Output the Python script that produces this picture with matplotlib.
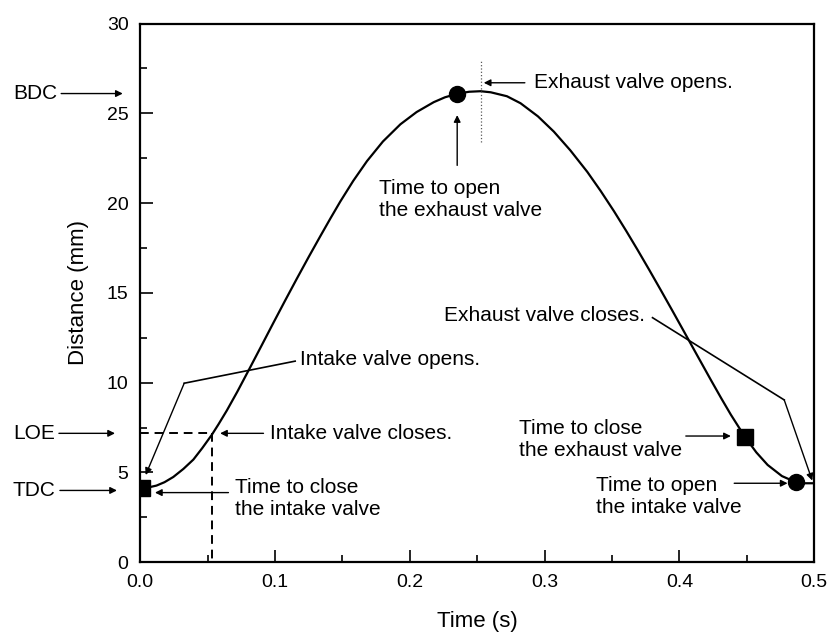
import matplotlib
matplotlib.use("Agg")
import matplotlib.pyplot as plt
import numpy as np

plt.rcParams['font.family'] = ['Liberation Sans', 'DejaVu Sans']

# --- Cam follower lift over one cycle ---
time = [0.000, 0.005, 0.012, 0.018, 0.0245, 0.032, 0.0394, 0.046, 0.053, 0.058,
        0.0642, 0.072, 0.0815, 0.090, 0.0988, 0.1075, 0.1162, 0.125, 0.1335,
        0.141, 0.1484, 0.158, 0.1682, 0.180, 0.193, 0.205, 0.2177, 0.226,
        0.2351, 0.244, 0.2524, 0.260, 0.272, 0.2821, 0.295, 0.3068, 0.319,
        0.3316, 0.3415, 0.3514, 0.3605, 0.3688, 0.3775, 0.3861, 0.3948, 0.4034,
        0.413, 0.4233, 0.431, 0.4381, 0.4485, 0.457, 0.4654, 0.476, 0.4866,
        0.493, 0.500]
distance = [4.12, 4.15, 4.27, 4.46, 4.75, 5.20, 5.72, 6.36, 7.09, 7.68,
            8.45, 9.50, 10.85, 12.07, 13.34, 14.58, 15.80, 17.01, 18.15,
            19.14, 20.09, 21.24, 22.34, 23.43, 24.39, 25.07, 25.62, 25.89,
            26.09, 26.20, 26.23, 26.17, 25.95, 25.56, 24.83, 23.98, 22.94,
            21.74, 20.68, 19.55, 18.45, 17.41, 16.29, 15.16, 14.00, 12.84,
            11.54, 10.15, 9.13, 8.22, 6.99, 6.12, 5.42, 4.80, 4.45,
            4.40, 4.40]

# valve timing events
square_t = [0.001, 0.4485]      # close intake / close exhaust
square_d = [4.12, 6.99]
circle_t = [0.2351, 0.4866]     # open exhaust / open intake
circle_d = [26.09, 4.45]

tdc, loe, bdc = 4.0, 7.18, 26.1
t_loe = 0.053
t_exhaust_open = 0.2524

xticks = [0.0, 0.1, 0.2, 0.3, 0.4, 0.5]
xtick_labels = ['0.0', '0.1', '0.2', '0.3', '0.4', '0.5']
yticks = [0, 5, 10, 15, 20, 25, 30]

# --- Plotting ---
fig = plt.figure(figsize=(8.32, 6.37), dpi=100)
ax = fig.add_axes([0.1686, 0.1173, 0.8101, 0.8458])

ax.plot(time, distance, color='black', lw=1.6, solid_joinstyle='round')
ax.plot(square_t, square_d, 's', color='black', ms=11)
ax.plot(circle_t, circle_d, 'o', color='black', ms=11.5)

# LOE guide lines
ax.plot([0, t_loe], [loe, loe], color='black', lw=1.4, dashes=(4.5, 3))
ax.plot([t_loe, t_loe], [loe, 0], color='black', lw=1.4, dashes=(4.5, 3))
ax.plot([t_exhaust_open, t_exhaust_open], [23.4, 27.9], color='0.35', lw=0.9, ls=':')

ax.set_xlim(0, 0.5)
ax.set_ylim(0, 30)
ax.set_xticks(xticks)
ax.set_xticklabels(xtick_labels)
ax.set_yticks(yticks)
ax.set_xticks(np.arange(0.05, 0.5, 0.1), minor=True)
ax.set_yticks(np.arange(2.5, 30, 5), minor=True)
ax.tick_params(which='both', direction='in', top=False, right=False,
               labelsize=14, width=1.2, pad=8.5)
ax.tick_params(which='major', length=9)
ax.tick_params(which='minor', length=5)
for sp in ax.spines.values():
    sp.set_linewidth(1.6)

ax.set_xlabel('Time (s)', fontsize=16, va='center')
ax.xaxis.set_label_coords(0.5, -0.110)
ax.set_ylabel('Distance (mm)', fontsize=16, va='center')
ax.yaxis.set_label_coords(-0.091, 0.5)

fs = 15
arrow = dict(arrowstyle='-|>', color='black', lw=1.0, mutation_scale=10,
             shrinkA=0, shrinkB=0)

# labels left of the axis
ytr = ax.get_yaxis_transform()
for name, yv, xend in [('BDC', bdc, -0.026), ('LOE', loe, -0.0375), ('TDC', tdc, -0.0346)]:
    ax.annotate(name, xy=(xend, yv), xycoords=ytr, xytext=(-0.189, yv), textcoords=ytr,
                fontsize=fs, ha='left', va='center', annotation_clip=False,
                arrowprops=dict(arrow, shrinkA=1))

# exhaust valve opens
ax.text(0.2918, 26.7, 'Exhaust valve opens.', fontsize=fs, ha='left', va='center')
ax.annotate('', xy=(0.2548, 26.7), xytext=(0.2853, 26.7), arrowprops=arrow)

# time to open the exhaust valve
ax.text(0.1768, 20.2, 'Time to open\nthe exhaust valve', fontsize=fs, ha='left',
        va='center', linespacing=1.2)
ax.annotate('', xy=(0.2351, 24.9), xytext=(0.2351, 22.1), arrowprops=arrow)

# intake valve opens
ax.text(0.1187, 11.27, 'Intake valve opens.', fontsize=fs, ha='left', va='center')
ax.plot([0.1149, 0.0326], [11.2, 9.97], color='black', lw=1.2)
ax.annotate('', xy=(0.0040, 4.86), xytext=(0.0326, 9.97), arrowprops=arrow)

# intake valve closes
ax.text(0.0963, 7.18, 'Intake valve closes.', fontsize=fs, ha='left', va='center')
ax.annotate('', xy=(0.0592, 7.18), xytext=(0.0914, 7.18), arrowprops=arrow)

# time to close the intake valve
ax.text(0.0703, 3.56, 'Time to close\nthe intake valve', fontsize=fs, ha='left',
        va='center', linespacing=1.2)
ax.annotate('', xy=(0.0109, 3.88), xytext=(0.0654, 3.88), arrowprops=arrow)

# exhaust valve closes
ax.text(0.2250, 13.75, 'Exhaust valve closes.', fontsize=fs, ha='left', va='center')
ax.plot([0.380, 0.4777], [13.62, 9.04], color='black', lw=1.2)
ax.annotate('', xy=(0.4985, 4.55), xytext=(0.4777, 9.04), arrowprops=arrow)

# time to close the exhaust valve
ax.text(0.2808, 6.86, 'Time to close\nthe exhaust valve', fontsize=fs, ha='left',
        va='center', linespacing=1.2)
ax.annotate('', xy=(0.4381, 7.03), xytext=(0.4047, 7.03), arrowprops=arrow)

# time to open the intake valve
ax.text(0.3378, 3.65, 'Time to open\nthe intake valve', fontsize=fs, ha='left',
        va='center', linespacing=1.2)
ax.annotate('', xy=(0.4802, 4.4), xytext=(0.4406, 4.4), arrowprops=arrow)

fig.savefig('out.png', dpi=100)
